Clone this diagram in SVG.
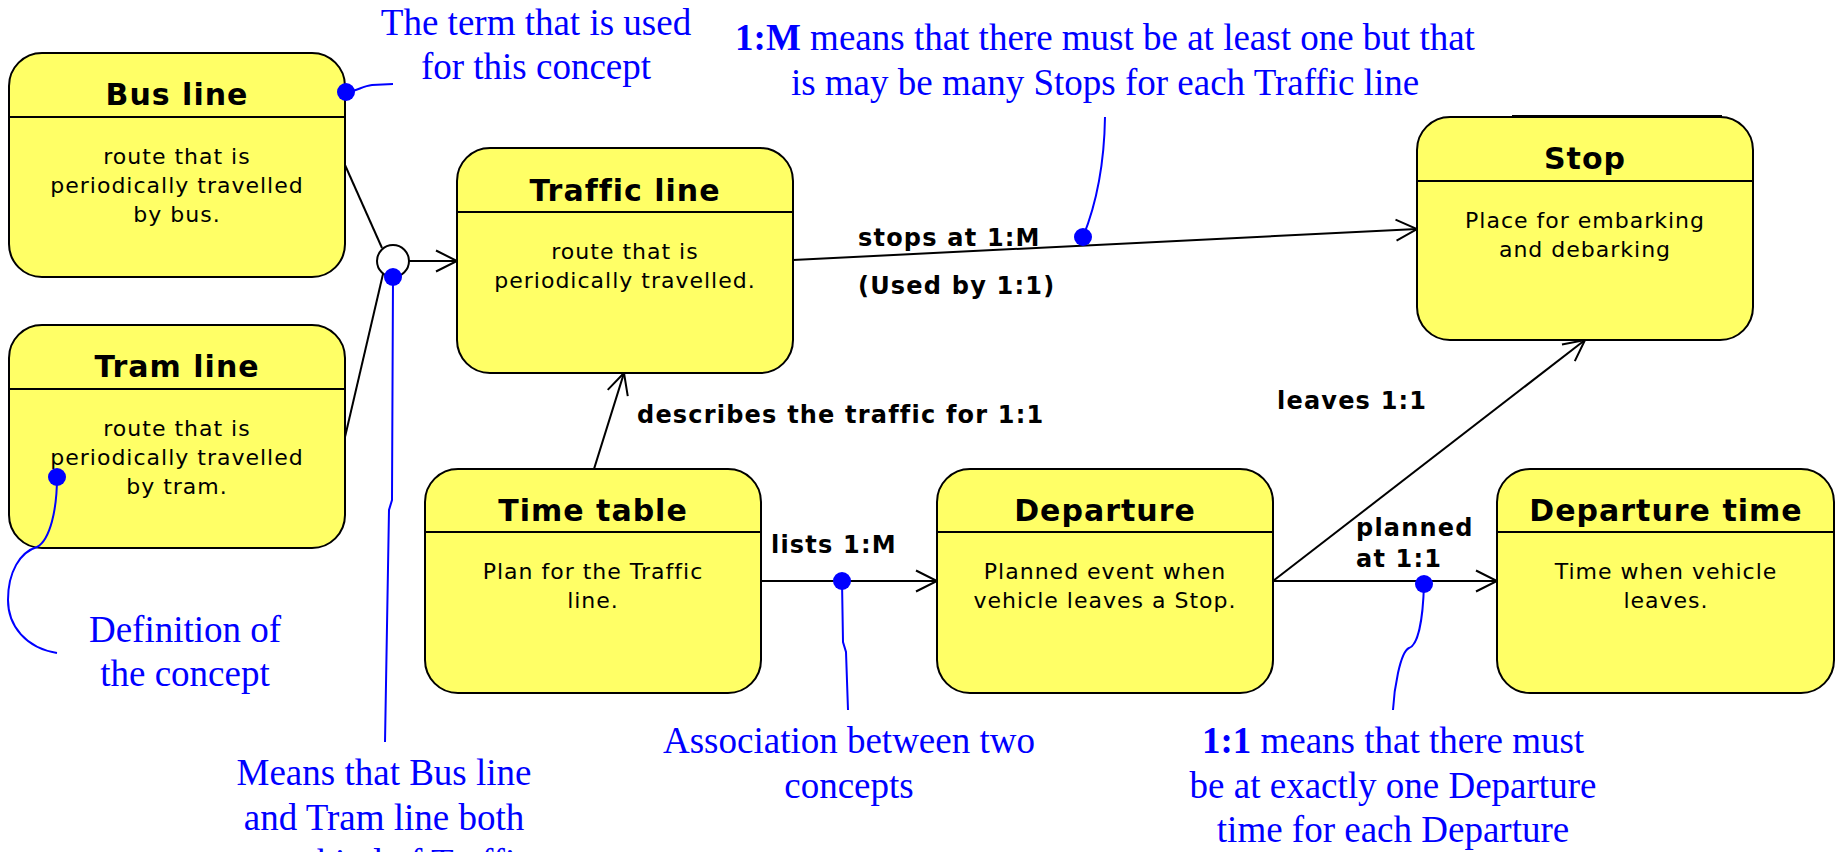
<svg xmlns="http://www.w3.org/2000/svg" width="1837" height="852" viewBox="0 0 1837 852">
  <style>
    .box { fill: #FFFF66; stroke: #000; stroke-width: 2; }
    .div { stroke: #000; stroke-width: 2; }
    .title { font-family: "DejaVu Sans", Verdana, sans-serif; font-weight: bold; font-size: 30px; letter-spacing: 1px; text-anchor: middle; fill: #000; }
    .body { font-family: "DejaVu Sans", Verdana, sans-serif; font-size: 22px; letter-spacing: 1px; text-anchor: middle; fill: #000; }
    .lbl { font-family: "DejaVu Sans", Verdana, sans-serif; font-weight: bold; font-size: 24px; letter-spacing: 1.2px; fill: #000; }
    .conn { stroke: #000; stroke-width: 2; fill: none; }
    .note { font-family: "Liberation Serif", "Times New Roman", serif; font-size: 37px; text-anchor: middle; fill: #0000FF; }
    .lead { stroke: #0000FF; stroke-width: 2; fill: none; }
    .dot { fill: #0000FF; }
  </style>
  <defs>
    <marker id="open" viewBox="-25 -14 28 28" refX="0" refY="0" markerWidth="28" markerHeight="28" markerUnits="userSpaceOnUse" orient="auto">
      <path d="M-21,-10.5 L0,0 L-21,10.5" fill="none" stroke="#000" stroke-width="2"/>
    </marker>
  </defs>

  <rect width="1837" height="852" fill="#FFFFFF"/>

  <!-- associations and generalization -->
  <g id="connectors">
    <line class="conn" x1="345" y1="165" x2="382" y2="248"/>
    <line class="conn" x1="345" y1="437" x2="383" y2="274"/>
    <line class="conn" x1="409" y1="261" x2="457" y2="261" marker-end="url(#open)"/>
    <circle cx="393" cy="261" r="16" fill="#FFFFFF" stroke="#000" stroke-width="2"/>
    <line class="conn" x1="793" y1="260" x2="1417" y2="229" marker-end="url(#open)"/>
    <line class="conn" x1="594" y1="469" x2="624" y2="373" marker-end="url(#open)"/>
    <line class="conn" x1="761" y1="581" x2="937" y2="581" marker-end="url(#open)"/>
    <line class="conn" x1="1273" y1="581" x2="1585" y2="340" marker-end="url(#open)"/>
    <line class="conn" x1="1273" y1="581" x2="1497" y2="581" marker-end="url(#open)"/>
    <text class="lbl" x="858" y="246">stops at 1:M</text>
    <text class="lbl" x="858" y="294">(Used by 1:1)</text>
    <text class="lbl" x="637" y="423">describes the traffic for 1:1</text>
    <text class="lbl" x="1277" y="409">leaves 1:1</text>
    <text class="lbl" x="771" y="553">lists 1:M</text>
    <text class="lbl" x="1356" y="536">planned</text>
    <text class="lbl" x="1356" y="567">at 1:1</text>
  </g>

  <g id="bus-line">
    <rect class="box" x="9" y="53" width="336" height="224" rx="33"/>
    <line class="div" x1="9" y1="117" x2="345" y2="117"/>
    <text class="title" x="177" y="105">Bus line</text>
    <text class="body" x="177" y="164">route that is</text>
    <text class="body" x="177" y="193">periodically travelled</text>
    <text class="body" x="177" y="222">by bus.</text>
  </g>

  <g id="tram-line">
    <rect class="box" x="9" y="325" width="336" height="223" rx="33"/>
    <line class="div" x1="9" y1="389" x2="345" y2="389"/>
    <text class="title" x="177" y="377">Tram line</text>
    <text class="body" x="177" y="436">route that is</text>
    <text class="body" x="177" y="465">periodically travelled</text>
    <text class="body" x="177" y="494">by tram.</text>
  </g>

  <g id="traffic-line">
    <rect class="box" x="457" y="148" width="336" height="225" rx="33"/>
    <line class="div" x1="457" y1="212" x2="793" y2="212"/>
    <text class="title" x="625" y="201">Traffic line</text>
    <text class="body" x="625" y="259">route that is</text>
    <text class="body" x="625" y="288">periodically travelled.</text>
  </g>

  <g id="stop">
    <rect class="box" x="1417" y="117" width="336" height="223" rx="33"/>
    <line class="div" x1="1512" y1="116" x2="1722" y2="116"/>
    <line class="div" x1="1417" y1="181" x2="1753" y2="181"/>
    <text class="title" x="1585" y="169">Stop</text>
    <text class="body" x="1585" y="228">Place for embarking</text>
    <text class="body" x="1585" y="257">and debarking</text>
  </g>

  <g id="time-table">
    <rect class="box" x="425" y="469" width="336" height="224" rx="33"/>
    <line class="div" x1="425" y1="532" x2="761" y2="532"/>
    <text class="title" x="593" y="521">Time table</text>
    <text class="body" x="593" y="579">Plan for the Traffic</text>
    <text class="body" x="593" y="608">line.</text>
  </g>

  <g id="departure">
    <rect class="box" x="937" y="469" width="336" height="224" rx="33"/>
    <line class="div" x1="937" y1="532" x2="1273" y2="532"/>
    <text class="title" x="1105" y="521">Departure</text>
    <text class="body" x="1105" y="579">Planned event when</text>
    <text class="body" x="1105" y="608">vehicle leaves a Stop.</text>
  </g>

  <g id="departure-time">
    <rect class="box" x="1497" y="469" width="337" height="224" rx="33"/>
    <line class="div" x1="1497" y1="532" x2="1834" y2="532"/>
    <text class="title" x="1666" y="521">Departure time</text>
    <text class="body" x="1666" y="579">Time when vehicle</text>
    <text class="body" x="1666" y="608">leaves.</text>
  </g>

  <!-- explanatory notes with leader lines -->
  <g id="note-term">
    <path class="lead" d="M346,92 C356,92 362,86 372,85 L393,84"/>
    <circle class="dot" cx="346" cy="92" r="9"/>
    <text class="note" x="536" y="35">The term that is used</text>
    <text class="note" x="536" y="79">for this concept</text>
  </g>

  <g id="note-definition">
    <path class="lead" d="M57,477 C57,510 50,540 37,547 C20,552 8,572 8,600 C8,626 26,648 57,653"/>
    <circle class="dot" cx="57" cy="477" r="9"/>
    <text class="note" x="185" y="642">Definition of</text>
    <text class="note" x="185" y="686">the concept</text>
  </g>

  <g id="note-generalization">
    <path class="lead" d="M393,277 L392,500 L389,510 L385,742"/>
    <circle class="dot" cx="393" cy="277" r="9"/>
    <text class="note" x="384" y="785">Means that Bus line</text>
    <text class="note" x="384" y="830">and Tram line both</text>
    <text class="note" x="384" y="875">are a kind of Traffic</text>
  </g>

  <g id="note-one-to-many">
    <path class="lead" d="M1083,237 Q1104,185 1105,117"/>
    <circle class="dot" cx="1083" cy="237" r="9"/>
    <text class="note" x="1105" y="50"><tspan font-weight="bold">1:M</tspan> means that there must be at least one but that</text>
    <text class="note" x="1105" y="95">is may be many Stops for each Traffic line</text>
  </g>

  <g id="note-association">
    <path class="lead" d="M842,581 L843,642 L846,652 L848,710"/>
    <circle class="dot" cx="842" cy="581" r="9"/>
    <text class="note" x="849" y="753">Association between two</text>
    <text class="note" x="849" y="798">concepts</text>
  </g>

  <g id="note-one-to-one">
    <path class="lead" d="M1424,584 C1423,620 1418,645 1409,648 C1400,652 1394,690 1393,710"/>
    <circle class="dot" cx="1424" cy="584" r="9"/>
    <text class="note" x="1393" y="753"><tspan font-weight="bold">1:1</tspan> means that there must</text>
    <text class="note" x="1393" y="798">be at exactly one Departure</text>
    <text class="note" x="1393" y="842">time for each Departure</text>
  </g>
</svg>
